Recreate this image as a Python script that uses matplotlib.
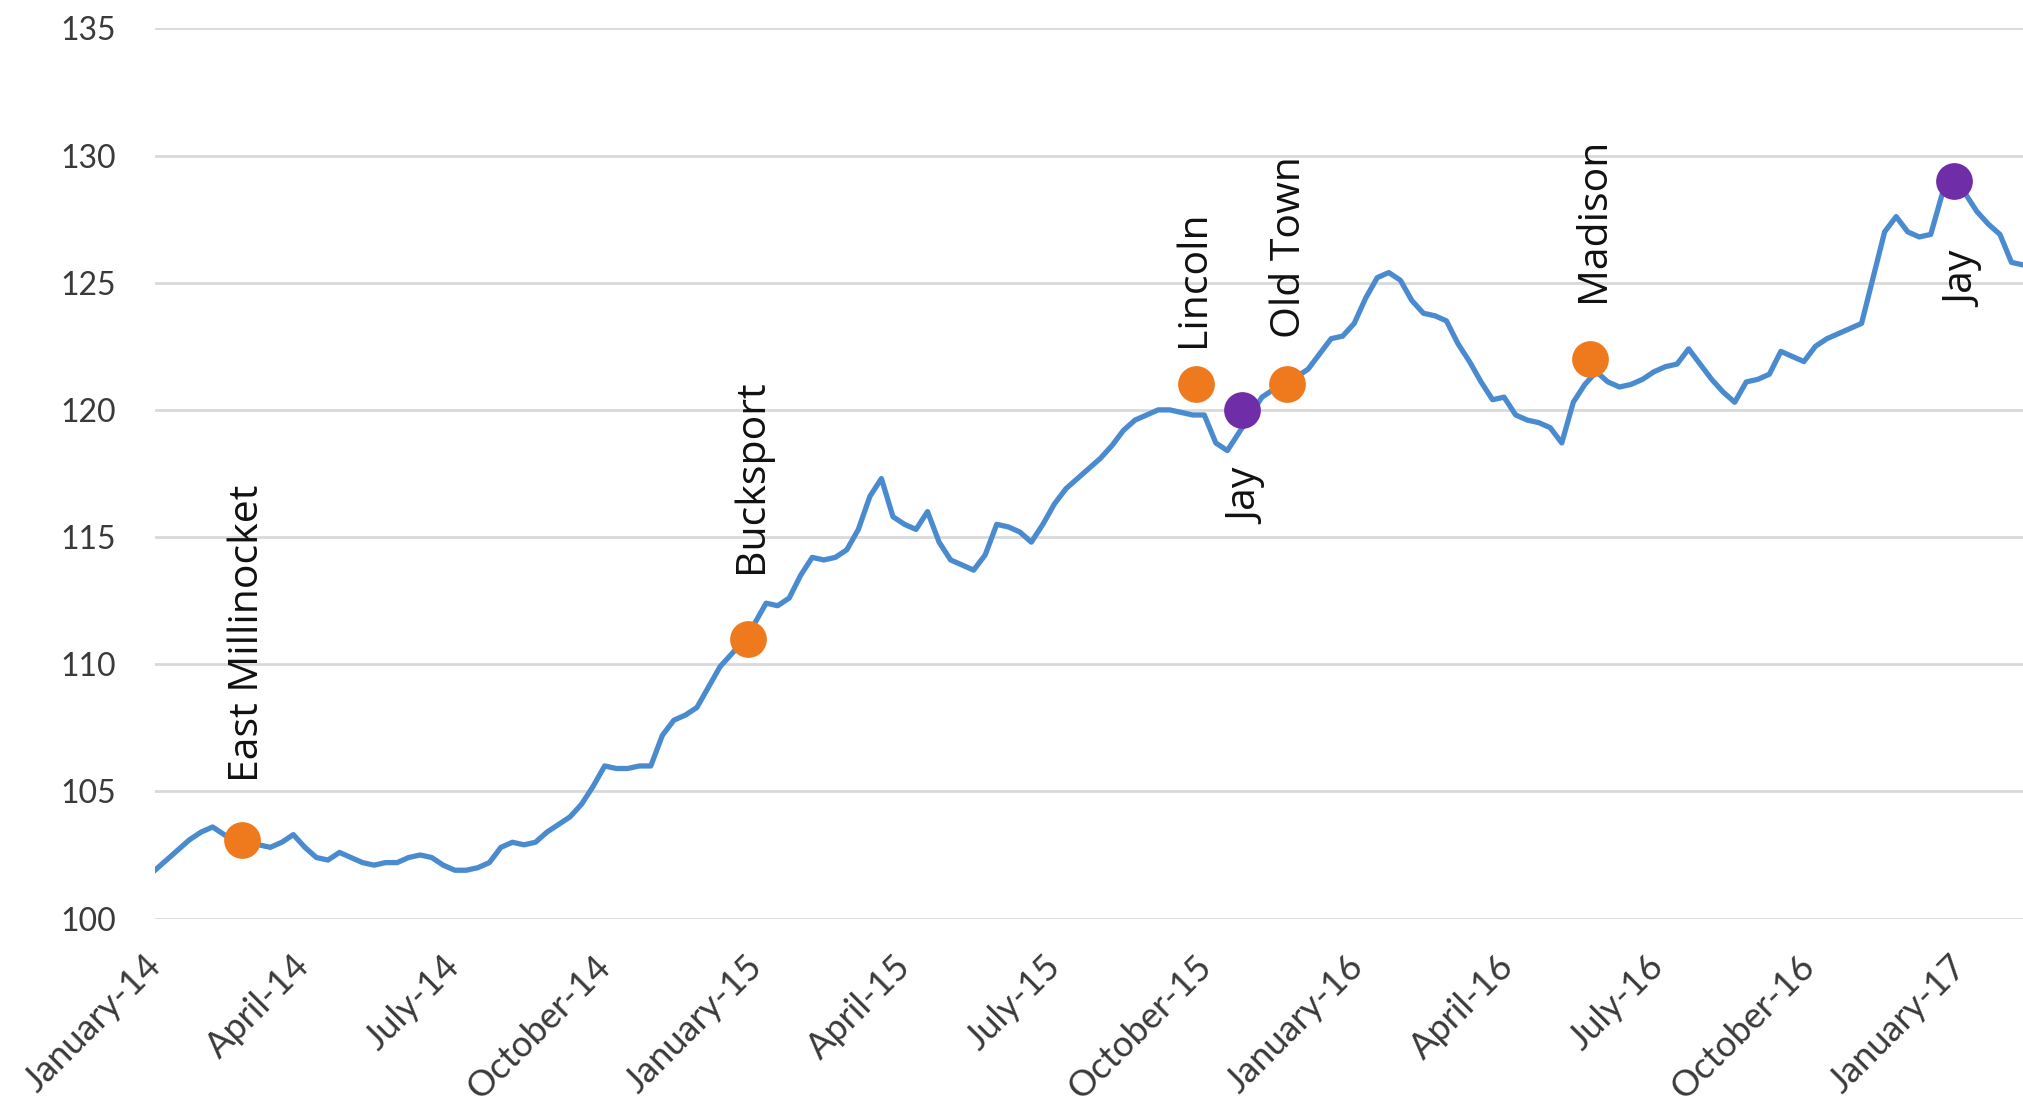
import numpy as np
import pandas as pd
import matplotlib
matplotlib.use('Agg')
import matplotlib.pyplot as plt
import matplotlib.transforms as mtransforms

# weekly index values (week 0 = 1 Jan 2014)
start_date = '2014-01-01'
index_values = [
    101.9, 102.3, 102.7, 103.1, 103.4, 103.6, 103.3, 103.0, 103.1, 102.9,
    102.8, 103.0, 103.3, 102.8, 102.4, 102.3, 102.6, 102.4, 102.2, 102.1,
    102.2, 102.2, 102.4, 102.5, 102.4, 102.1, 101.9, 101.9, 102.0, 102.2,
    102.8, 103.0, 102.9, 103.0, 103.4, 103.7, 104.0, 104.5, 105.2, 106.0,
    105.9, 105.9, 106.0, 106.0, 107.2, 107.8, 108.0, 108.3, 109.1, 109.9,
    110.4, 110.9, 111.6, 112.4, 112.3, 112.6, 113.5, 114.2, 114.1, 114.2,
    114.5, 115.3, 116.6, 117.3, 115.8, 115.5, 115.3, 116.0, 114.8, 114.1,
    113.9, 113.7, 114.3, 115.5, 115.4, 115.2, 114.8, 115.5, 116.3, 116.9,
    117.3, 117.7, 118.1, 118.6, 119.2, 119.6, 119.8, 120.0, 120.0, 119.9,
    119.8, 119.8, 118.7, 118.4, 119.1, 119.8, 120.5, 120.8, 121.1, 121.3,
    121.6, 122.2, 122.8, 122.9, 123.4, 124.4, 125.2, 125.4, 125.1, 124.3,
    123.8, 123.7, 123.5, 122.6, 121.9, 121.1, 120.4, 120.5, 119.8, 119.6,
    119.5, 119.3, 118.7, 120.3, 121.0, 121.5, 121.1, 120.9, 121.0, 121.2,
    121.5, 121.7, 121.8, 122.4, 121.8, 121.2, 120.7, 120.3, 121.1, 121.2,
    121.4, 122.3, 122.1, 121.9, 122.5, 122.8, 123.0, 123.2, 123.4, 125.2,
    127.0, 127.6, 127.0, 126.8, 126.9, 128.5, 129.0, 128.5, 127.8, 127.3,
    126.9, 125.8, 125.7,
]

# mill events
event_names = ['East Millinocket', 'Bucksport', 'Lincoln', 'Jay', 'Old Town', 'Madison', 'Jay']
event_dates = ['2014-02-23', '2014-12-27', '2015-09-25', '2015-10-23', '2015-11-19', '2016-05-21', '2016-12-28']
event_values = [103.1, 111.0, 121.0, 120.0, 121.0, 122.0, 129.0]
event_kind = ['closure', 'closure', 'closure', 'other', 'closure', 'closure', 'other']

tick_dates = pd.date_range('2014-01-01', '2017-01-01', freq='QS')

kind_colors = {'closure': '#ef7a1e', 'other': '#6f2da8'}
# label offsets in pixels (dx, dy); negative dy puts the label below the dot
label_offsets = [(5, 58), (4, 66), (-2, 37), (6, -60), (3, 46), (4, 57), (11, -72)]

plt.rcParams['font.family'] = ['Lato', 'DejaVu Sans']

dates = pd.date_range(start_date, periods=len(index_values), freq='7D')

fig = plt.figure(figsize=(20.23, 11.13), dpi=100)
ax = fig.add_axes([0.0766, 0.1747, 1 - 0.0766, 0.9745 - 0.1747])

ax.plot(dates, index_values, color='#4a8bd0', lw=3.8, zorder=3, solid_joinstyle='round')

ev_dates = pd.to_datetime(event_dates)
for name, d, v, k, (dx, dy) in zip(event_names, ev_dates, event_values, event_kind, label_offsets):
    ax.scatter([d], [v], s=700, color=kind_colors[k], zorder=4, linewidths=0)
    ax.annotate(name, xy=(d, v), xytext=(dx, dy), textcoords='offset pixels',
                rotation=90, ha='center', va='bottom' if dy > 0 else 'top',
                fontsize=29.5, family='Open Sans', color='#111111', zorder=5)

ax.set_ylim(100, 135)
ax.set_yticks(np.arange(100, 136, 5))
ax.set_xlim(pd.Timestamp(start_date), pd.Timestamp(start_date) + pd.Timedelta(days=1134))
ax.set_xticks(tick_dates)
ax.set_xticklabels([d.strftime('%B-%y') for d in tick_dates], rotation=45,
                   ha='right', va='top', rotation_mode='anchor')

ax.grid(axis='y', color='#d9d9d9', lw=2)
ax.set_axisbelow(True)
for s in ax.spines.values():
    s.set_visible(False)
ax.tick_params(axis='y', length=0, labelsize=23, labelcolor='#3a3a3a', pad=28)
ax.tick_params(axis='x', length=0, labelsize=26, labelcolor='#3a3a3a', pad=22)

shift = mtransforms.ScaledTranslation(-11 / 100, 0, fig.dpi_scale_trans)
for lab in ax.get_xticklabels():
    lab.set_transform(lab.get_transform() + shift)

fig.savefig('out.png', dpi=100, facecolor='white')
